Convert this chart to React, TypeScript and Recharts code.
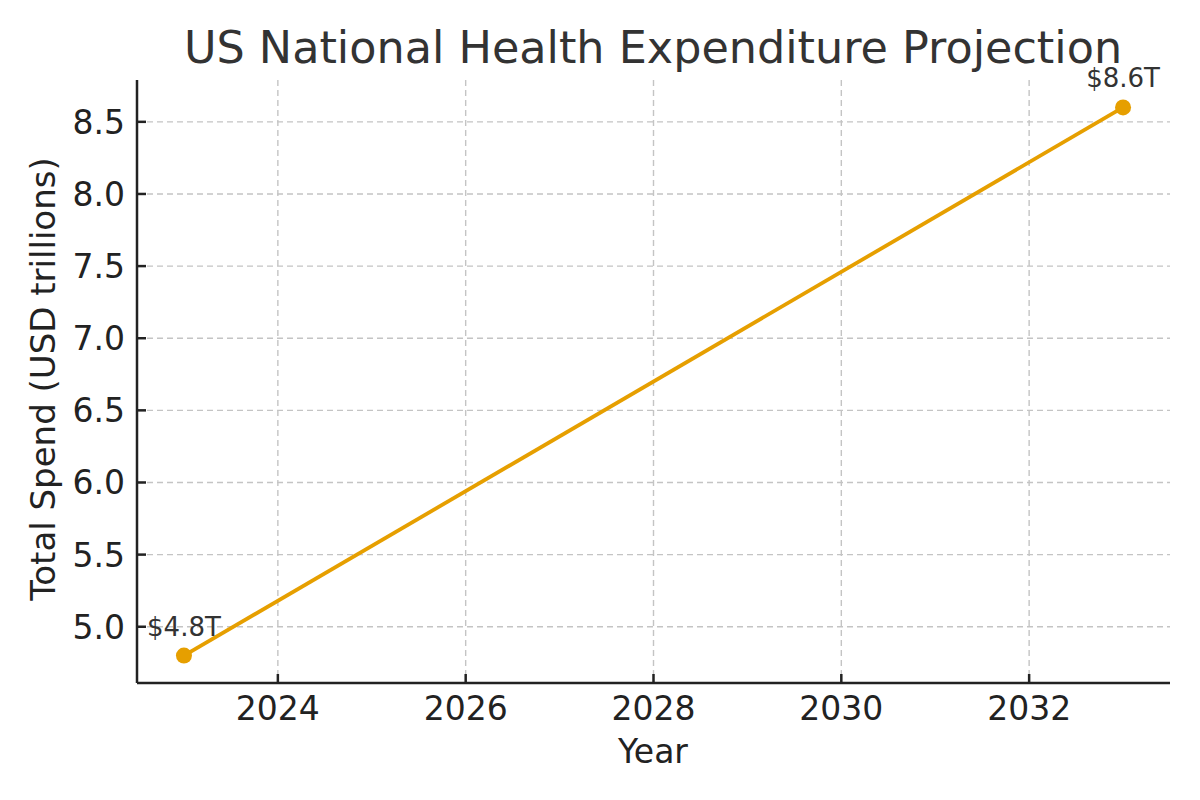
import React from 'react';
import { LineChart, Line, XAxis, YAxis, CartesianGrid, LabelList } from 'recharts';

const years = [2023, 2033];
const spend = [4.8, 8.6];
const xTicks = [2024, 2026, 2028, 2030, 2032];
const yTicks = [5.0, 5.5, 6.0, 6.5, 7.0, 7.5, 8.0, 8.5];
const xDomain = [2022.5, 2033.5];
const yDomain = [4.61, 8.79];

const data = years.map((year, i) => ({ year, spend: spend[i] }));

const FONT = '"DejaVu Sans", sans-serif';
const AXIS = '#222222';
const ORANGE = '#E69F00';
const TICK_LEN = 9;

// grid only at the tick values (no lines on the plot edges)
const hGrid = (args: any) => {
  const sc = args?.yAxis?.scale;
  if (typeof sc === 'function') return yTicks.map((t) => sc(t));
  const { top, height } = args.offset;
  return yTicks.map((t) => top + height * (1 - (t - yDomain[0]) / (yDomain[1] - yDomain[0])));
};

const vGrid = (args: any) => {
  const sc = args?.xAxis?.scale;
  if (typeof sc === 'function') return xTicks.map((t) => sc(t));
  const { left, width } = args.offset;
  return xTicks.map((t) => left + (width * (t - xDomain[0])) / (xDomain[1] - xDomain[0]));
};

// matplotlib-style ticks: tick mark points into the plot, label outside
const XTick = (props: any) => {
  const { x, y, payload } = props;
  return (
    <g>
      <line x1={x} x2={x} y1={683} y2={683 - TICK_LEN} stroke={AXIS} strokeWidth={2.5} />
      <text x={x} y={y + 26} textAnchor="middle" fill={AXIS} fontSize={33} fontFamily={FONT}>
        {payload.value}
      </text>
    </g>
  );
};

const YTick = (props: any) => {
  const { y, payload } = props;
  return (
    <g>
      <line x1={137} x2={137 + TICK_LEN} y1={y} y2={y} stroke={AXIS} strokeWidth={2.5} />
      <text x={125} y={y + 12} textAnchor="end" fill={AXIS} fontSize={33} fontFamily={FONT}>
        {payload.value.toFixed(1)}
      </text>
    </g>
  );
};

const PointLabel = (props: any) => {
  const { x, y, value } = props;
  return (
    <text x={x} y={y - 20} textAnchor="middle" fill="#333333" fontSize={26} fontFamily={FONT}>
      {`$${value.toFixed(1)}T`}
    </text>
  );
};

export default function App() {
  return (
    <div style={{ position: 'absolute', left: 0, top: 0, width: 1200, height: 800, background: '#fff' }}>
      <svg width={1200} height={800} style={{ position: 'absolute', left: 0, top: 0 }}>
        <text x={653} y={63} textAnchor="middle" fill="#333333" fontSize={44.5} fontFamily={FONT}>
          US National Health Expenditure Projection
        </text>
        <text x={653} y={763} textAnchor="middle" fill={AXIS} fontSize={33} fontFamily={FONT}>
          Year
        </text>
        <text
          x={55}
          y={379}
          transform="rotate(-90, 55, 379)"
          textAnchor="middle"
          fill={AXIS}
          fontSize={34}
          fontFamily={FONT}
        >
          Total Spend (USD trillions)
        </text>
      </svg>
      <div style={{ position: 'absolute', left: 0, top: 0 }}>
        <LineChart width={1200} height={800} data={data} margin={{ top: 80, right: 30, left: 0, bottom: 0 }}>
          <CartesianGrid
            stroke="#c4c4c4"
            strokeDasharray="6 4"
            strokeWidth={1.4}
            horizontalCoordinatesGenerator={hGrid}
            verticalCoordinatesGenerator={vGrid}
          />
          <XAxis
            dataKey="year"
            type="number"
            domain={xDomain}
            ticks={xTicks}
            allowDataOverflow
            height={117}
            tickLine={false}
            tickSize={0}
            tickMargin={11}
            axisLine={{ stroke: AXIS, strokeWidth: 2.5 }}
            tick={<XTick />}
          />
          <YAxis
            type="number"
            domain={yDomain}
            ticks={yTicks}
            allowDataOverflow
            width={137}
            tickLine={false}
            tickSize={0}
            axisLine={{ stroke: AXIS, strokeWidth: 2.5 }}
            tick={<YTick />}
          />
          <Line
            type="linear"
            dataKey="spend"
            stroke={ORANGE}
            strokeWidth={3.8}
            dot={{ r: 8, fill: ORANGE, stroke: 'none' }}
            isAnimationActive={false}
          >
            <LabelList dataKey="spend" content={<PointLabel />} />
          </Line>
        </LineChart>
      </div>
    </div>
  );
}
